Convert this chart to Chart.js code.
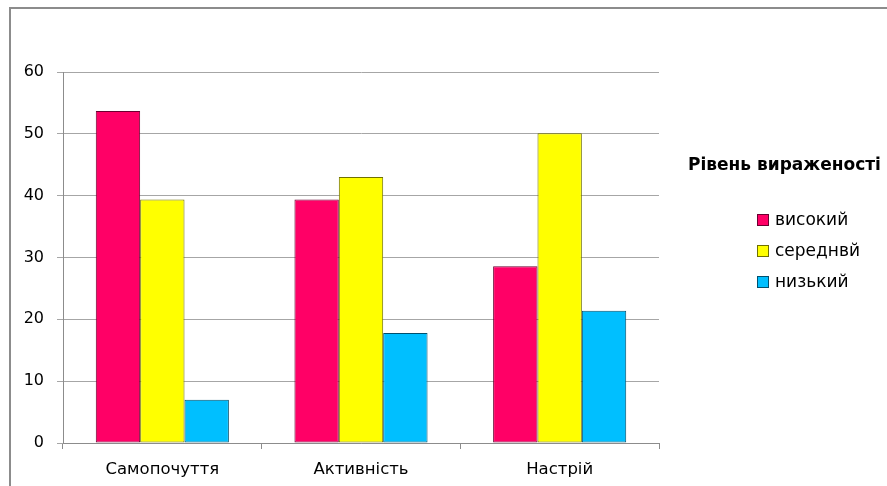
<!DOCTYPE html>
<html>
<head>
<meta charset="utf-8">
<script src="https://cdn.jsdelivr.net/npm/chart.js@4"></script>
<style>
  html, body { margin: 0; padding: 0; background: #fff; }
  #wrap { width: 887px; height: 486px; position: relative; }
</style>
</head>
<body>
<div id="wrap"><canvas id="chart" width="887" height="486"></canvas></div>
<script>
// Chart data
const categories = ['Самопочуття', 'Активність', 'Настрій'];
const highValues = [53.7, 39.4, 28.6];
const middleValues = [39.4, 43.0, 50.1];
const lowValues = [7.0, 17.8, 21.4];
const seriesNames = ['високий', 'середнвй', 'низький'];
const legendTitle = 'Рівень вираженості';
const yTicks = [0, 10, 20, 30, 40, 50, 60];

const fillColors = ['#ff0066', '#ffff00', '#00bfff'];
const edgeColors = ['#6a0030', '#707000', '#00506e'];

// Outer frame + legend drawn on canvas
const framePlugin = {
    id: 'frameLegend',
    afterDraw(chart) {
        const ctx = chart.ctx;
        ctx.save();
        ctx.strokeStyle = '#8c8c8c';
        ctx.lineWidth = 2;
        ctx.strokeRect(10, 8, 950, 550);

        ctx.fillStyle = '#000';
        ctx.textBaseline = 'middle';
        ctx.font = 'bold 17px "DejaVu Sans", sans-serif';
        ctx.fillText(legendTitle, 688, 166);

        ctx.lineWidth = 1;
        ctx.font = '17px "DejaVu Sans", sans-serif';
        seriesNames.forEach((name, i) => {
            const y = 220 + i * 31;
            ctx.fillStyle = fillColors[i];
            ctx.fillRect(757, y - 6, 12, 12);
            ctx.strokeStyle = edgeColors[i];
            ctx.strokeRect(757.5, y - 5.5, 11, 11);
            ctx.fillStyle = '#000';
            ctx.fillText(name, 775, y + 1);
        });
        ctx.restore();
    }
};

const datasets = [highValues, middleValues, lowValues].map((vals, i) => ({
    label: seriesNames[i],
    data: vals,
    backgroundColor: fillColors[i],
    borderColor: edgeColors[i],
    borderWidth: 1,
    borderSkipped: false,
    categoryPercentage: 0.67,
    barPercentage: 1.0
}));

new Chart(document.getElementById('chart'), {
    type: 'bar',
    data: { labels: categories, datasets },
    plugins: [framePlugin],
    options: {
        responsive: false,
        animation: false,
        devicePixelRatio: 1,
        layout: { padding: { top: 72, right: 228, left: 0, bottom: 0 } },
        plugins: {
            legend: { display: false },
            tooltip: { enabled: false }
        },
        scales: {
            x: {
                grid: {
                    offset: true,
                    drawOnChartArea: false,
                    drawTicks: true,
                    tickLength: 6,
                    color: '#8c8c8c'
                },
                border: { color: '#8c8c8c' },
                ticks: {
                    color: '#000',
                    padding: 11,
                    font: { family: 'DejaVu Sans', size: 16.5 }
                },
                afterFit(scale) { scale.height = 43; }
            },
            y: {
                min: 0,
                max: 60,
                afterBuildTicks(scale) { scale.ticks = yTicks.map(v => ({ value: v })); },
                grid: { color: '#a6a6a6', tickLength: 6 },
                border: { color: '#8c8c8c' },
                ticks: {
                    color: '#000',
                    padding: 13,
                    font: { family: 'DejaVu Sans', size: 16 }
                },
                afterFit(scale) { scale.width = 63; }
            }
        }
    }
});
</script>
</body>
</html>
